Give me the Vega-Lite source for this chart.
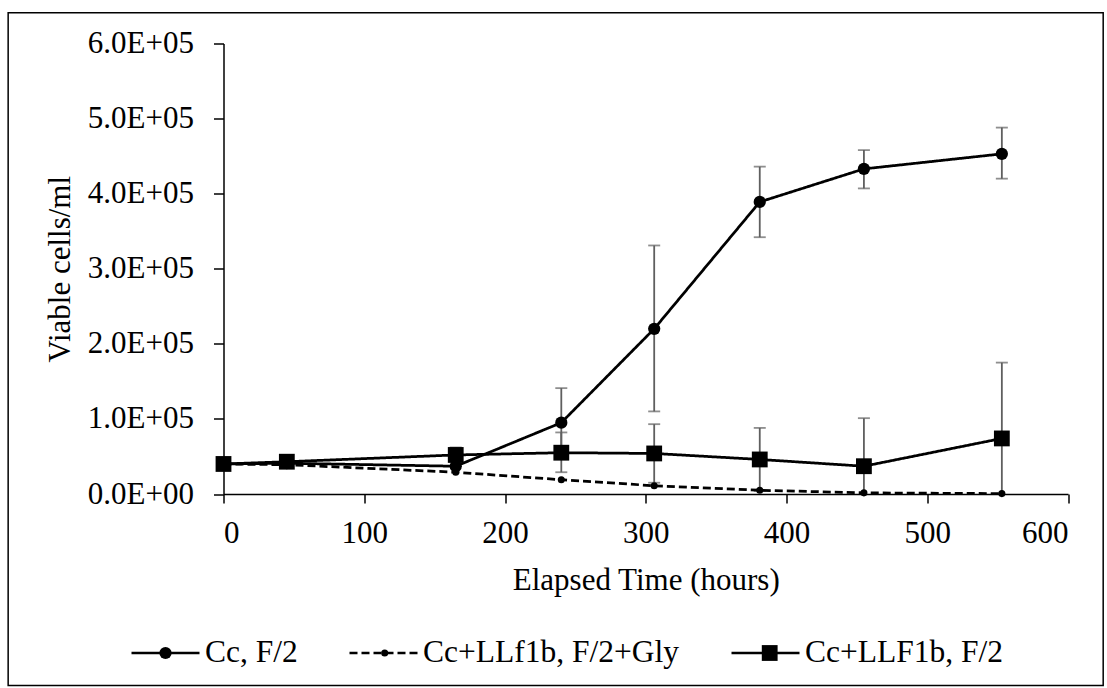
{
  "$schema": "https://vega.github.io/schema/vega-lite/v6.json",
  "width": 844.5,
  "height": 450.5,
  "autosize": "none",
  "padding": {"left": 223.5, "top": 43.5, "right": 39, "bottom": 194},
  "background": "white",
  "config": {
    "view": {"stroke": null},
    "font": "Liberation Serif",
    "axis": {
      "labelFont": "Liberation Serif",
      "labelFontSize": 31,
      "labelColor": "black",
      "titleFont": "Liberation Serif",
      "titleFontSize": 31,
      "titleFontWeight": "normal",
      "titleColor": "black",
      "domainColor": "black",
      "domainWidth": 1.5,
      "tickColor": "black",
      "tickWidth": 1.5,
      "gridColor": "#d9d9d9",
      "gridWidth": 1.5
    }
  },
  "datasets": {
    "pts": [
      {"series": "Cc, F/2", "t": 0, "v": 40000},
      {"series": "Cc, F/2", "t": 45, "v": 41000},
      {"series": "Cc, F/2", "t": 165, "v": 37000},
      {"series": "Cc, F/2", "t": 240, "v": 95000, "lo": 49000, "hi": 141000},
      {"series": "Cc, F/2", "t": 306, "v": 220000, "lo": 110000, "hi": 331000},
      {"series": "Cc, F/2", "t": 381, "v": 389000, "lo": 342000, "hi": 436000},
      {"series": "Cc, F/2", "t": 455, "v": 433000, "lo": 407000, "hi": 458000},
      {"series": "Cc, F/2", "t": 553, "v": 453000, "lo": 420000, "hi": 488000},
      {"series": "Cc+LLf1b, F/2+Gly", "t": 0, "v": 40000},
      {"series": "Cc+LLf1b, F/2+Gly", "t": 45, "v": 39000},
      {"series": "Cc+LLf1b, F/2+Gly", "t": 165, "v": 29000},
      {"series": "Cc+LLf1b, F/2+Gly", "t": 240, "v": 19000},
      {"series": "Cc+LLf1b, F/2+Gly", "t": 306, "v": 11000},
      {"series": "Cc+LLf1b, F/2+Gly", "t": 381, "v": 5000},
      {"series": "Cc+LLf1b, F/2+Gly", "t": 455, "v": 1500},
      {"series": "Cc+LLf1b, F/2+Gly", "t": 553, "v": 500},
      {"series": "Cc+LLF1b, F/2", "t": 0, "v": 40000},
      {"series": "Cc+LLF1b, F/2", "t": 45, "v": 43000},
      {"series": "Cc+LLF1b, F/2", "t": 165, "v": 52000, "lo": 42000, "hi": 62000},
      {"series": "Cc+LLF1b, F/2", "t": 240, "v": 55000, "lo": 29000, "hi": 82000},
      {"series": "Cc+LLF1b, F/2", "t": 306, "v": 54000, "lo": 15000, "hi": 93000},
      {"series": "Cc+LLF1b, F/2", "t": 381, "v": 46000, "lo": 4000, "hi": 88000},
      {"series": "Cc+LLF1b, F/2", "t": 455, "v": 37000, "lo": -27000, "hi": 101000},
      {"series": "Cc+LLF1b, F/2", "t": 553, "v": 74000, "lo": -27000, "hi": 175000}
    ],
    "frame": [{"part": "chart area"}]
  },
  "layer": [
    {
      "data": {"name": "frame"},
      "mark": {"type": "rect", "fill": "white", "fillOpacity": 0, "stroke": "black", "strokeWidth": 1.5, "clip": false},
      "encoding": {
        "x": {"datum": -153, "type": "quantitative", "scale": {"domain": [0, 600], "nice": false}},
        "x2": {"datum": 625},
        "y": {"datum": 641000, "type": "quantitative", "scale": {"domain": [0, 600000], "nice": false}},
        "y2": {"datum": -255000}
      }
    },
    {
      "data": {"name": "pts"},
      "transform": [{"filter": "isValid(datum.hi)"}],
      "mark": {"type": "rule", "color": "#5f5f5f", "strokeWidth": 1.8, "clip": true},
      "encoding": {
        "x": {"field": "t", "type": "quantitative", "scale": {"domain": [0, 600], "nice": false}},
        "y": {"field": "lo", "type": "quantitative", "scale": {"domain": [0, 600000], "nice": false}},
        "y2": {"field": "hi"}
      }
    },
    {
      "data": {"name": "pts"},
      "transform": [{"filter": "isValid(datum.hi)"}],
      "mark": {"type": "tick", "orient": "horizontal", "color": "#5f5f5f", "size": 12, "thickness": 1.8},
      "encoding": {
        "x": {"field": "t", "type": "quantitative"},
        "y": {"field": "hi", "type": "quantitative"}
      }
    },
    {
      "data": {"name": "pts"},
      "transform": [{"filter": "isValid(datum.lo) && datum.lo >= 0"}],
      "mark": {"type": "tick", "orient": "horizontal", "color": "#5f5f5f", "size": 12, "thickness": 1.8},
      "encoding": {
        "x": {"field": "t", "type": "quantitative"},
        "y": {"field": "lo", "type": "quantitative"}
      }
    },
    {
      "data": {"name": "pts"},
      "mark": {"type": "line", "color": "black", "strokeWidth": 2.75},
      "encoding": {
        "x": {
          "field": "t",
          "type": "quantitative",
          "title": "Elapsed Time (hours)",
          "scale": {"domain": [0, 600], "nice": false},
          "axis": {"values": [0, 100, 200, 300, 400, 500, 600], "tickSize": 9, "labelPadding": 15, "titlePadding": 17}
        },
        "y": {
          "field": "v",
          "type": "quantitative",
          "title": "Viable cells/ml",
          "scale": {"domain": [0, 600000], "nice": false},
          "axis": {
            "values": [0, 100000, 200000, 300000, 400000, 500000, 600000],
            "labelExpr": "datum.value == 0 ? '0.0E+00' : format(datum.value / 100000, '.1f') + 'E+05'",
            "tickSize": 10,
            "labelPadding": 20,
            "titlePadding": 11
          }
        },
        "detail": {"field": "series"},
        "strokeDash": {
          "field": "series",
          "type": "nominal",
          "scale": {"domain": ["Cc, F/2", "Cc+LLf1b, F/2+Gly", "Cc+LLF1b, F/2"], "range": [[1, 0], [8, 4], [1, 0]]},
          "legend": {
            "title": null,
            "orient": "none",
            "direction": "horizontal",
            "legendX": -93.5,
            "legendY": 574,
            "padding": 0,
            "columnPadding": 46,
            "labelFont": "Liberation Serif",
            "labelFontSize": 31.5,
            "labelColor": "black",
            "labelOffset": 4,
            "labelLimit": 500,
            "symbolSize": 4624,
            "symbolStrokeWidth": 2.5,
            "symbolStrokeColor": "black"
          }
        }
      }
    },
    {
      "data": {"name": "pts"},
      "mark": {"type": "point", "filled": true, "color": "black"},
      "encoding": {
        "x": {"field": "t", "type": "quantitative"},
        "y": {"field": "v", "type": "quantitative"},
        "shape": {
          "field": "series",
          "type": "nominal",
          "scale": {"domain": ["Cc+LLF1b, F/2", "Cc+LLf1b, F/2+Gly", "Cc, F/2"], "range": ["square", "circle", "circle"]},
          "legend": {
            "title": null,
            "orient": "none",
            "values": ["Cc, F/2"],
            "legendX": -64.5,
            "legendY": 603,
            "padding": 0,
            "labelExpr": "''",
            "labelFontSize": 1,
            "symbolType": "circle",
            "symbolSize": 150,
            "symbolFillColor": "black",
            "symbolStrokeWidth": 0,
            "symbolOpacity": 1
          }
        },
        "size": {
          "field": "series",
          "type": "nominal",
          "scale": {"type": "point", "padding": 0, "domain": ["Cc+LLf1b, F/2+Gly", "Cc, F/2", "Cc+LLF1b, F/2"], "range": [50, 250]},
          "legend": {
            "title": null,
            "orient": "none",
            "values": ["Cc+LLf1b, F/2+Gly"],
            "legendX": 157.2,
            "legendY": 605.5,
            "padding": 0,
            "labelExpr": "''",
            "labelFontSize": 1,
            "symbolType": "circle",
            "symbolFillColor": "black",
            "symbolStrokeWidth": 0,
            "symbolOpacity": 1
          }
        },
        "opacity": {
          "field": "series",
          "type": "nominal",
          "scale": {"type": "point", "padding": 0, "domain": ["Cc, F/2", "Cc+LLF1b, F/2", "Cc+LLf1b, F/2+Gly"], "range": [1, 1]},
          "legend": {
            "title": null,
            "orient": "none",
            "values": ["Cc+LLF1b, F/2"],
            "legendX": 538.2,
            "legendY": 601.5,
            "padding": 0,
            "labelExpr": "''",
            "labelFontSize": 1,
            "symbolType": "square",
            "symbolSize": 250,
            "symbolFillColor": "black",
            "symbolStrokeWidth": 0
          }
        }
      }
    }
  ]
}
